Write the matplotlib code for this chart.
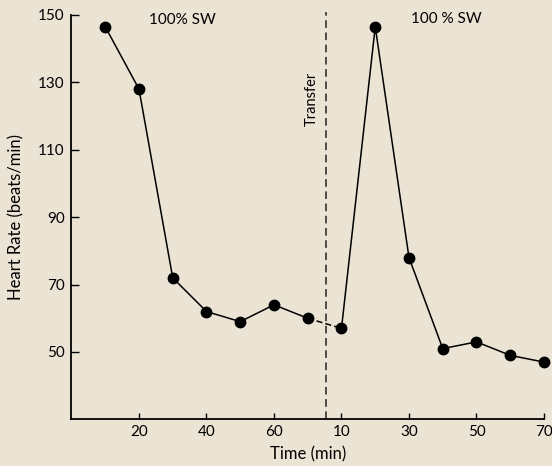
import numpy as np
import matplotlib.pyplot as plt

# heart rate before and after transfer (both phases in 100% SW)
time_before = [10, 20, 30, 40, 50, 60, 70]
rate_before = [146.5, 128, 72, 62, 59, 64, 60]
time_after = [10, 20, 30, 40, 50, 60, 70]
rate_after = [57, 146.5, 78, 51, 53, 49, 47]

transfer_at = 75.5          # on the continuous axis
offset = 70                 # second phase starts after 70 min
xticks = [20, 40, 60, 80, 100, 120, 140]
xtick_labels = ['20', '40', '60', '10', '30', '50', '70']
yticks = [50, 70, 90, 110, 130, 150]

bg = '#ebe4d5'
plt.rcParams['font.family'] = ['Lato', 'DejaVu Sans']

fig = plt.figure(figsize=(5.52, 4.66), dpi=100, facecolor=bg)
ax = fig.add_axes([0.1295, 0.1, 0.856, 0.868], facecolor=bg)

x1 = np.array(time_before)
x2 = np.array(time_after) + offset
ax.plot(x1, rate_before, '-', color='black', lw=1.1, zorder=3)
ax.plot(x2, rate_after, '-', color='black', lw=1.1, zorder=3)
# segment crossing the transfer is dashed
ax.plot([x1[-1], x2[0]], [rate_before[-1], rate_after[0]], color='black',
        lw=1.1, dashes=(4, 2), zorder=3)
ax.plot(x1, rate_before, 'o', color='black', ms=7.5, zorder=4, clip_on=False)
ax.plot(x2, rate_after, 'o', color='black', ms=7.5, zorder=4, clip_on=False)

ax.axvline(transfer_at, ymin=0, ymax=1.006, color='#222222', lw=1.1,
           dashes=(5, 3), clip_on=False)

ax.text(33, 148.5, '100% SW', ha='center', va='center', fontsize=11)
ax.text(111, 148.7, '100 % SW', ha='center', va='center', fontsize=11)
ax.text(71.3, 125, 'Transfer', rotation=90, ha='center', va='center', fontsize=10.5)

ax.set_xlim(0, 140)
ax.set_ylim(30, 150)
ax.set_xticks(xticks)
ax.set_xticklabels(xtick_labels)
ax.set_yticks(yticks)
ax.tick_params(direction='in', length=4, width=1, labelsize=11, pad=4)
ax.tick_params(axis='y', length=6, pad=5, direction='in')
for s in ['top', 'right']:
    ax.spines[s].set_visible(False)
for s in ['left', 'bottom']:
    ax.spines[s].set_linewidth(1.3)

ax.set_xlabel('Time (min)', fontsize=12, labelpad=5)
ax.set_ylabel('Heart Rate (beats/min)', fontsize=12, labelpad=10)

plt.savefig('out.png', dpi=100, facecolor=bg)
